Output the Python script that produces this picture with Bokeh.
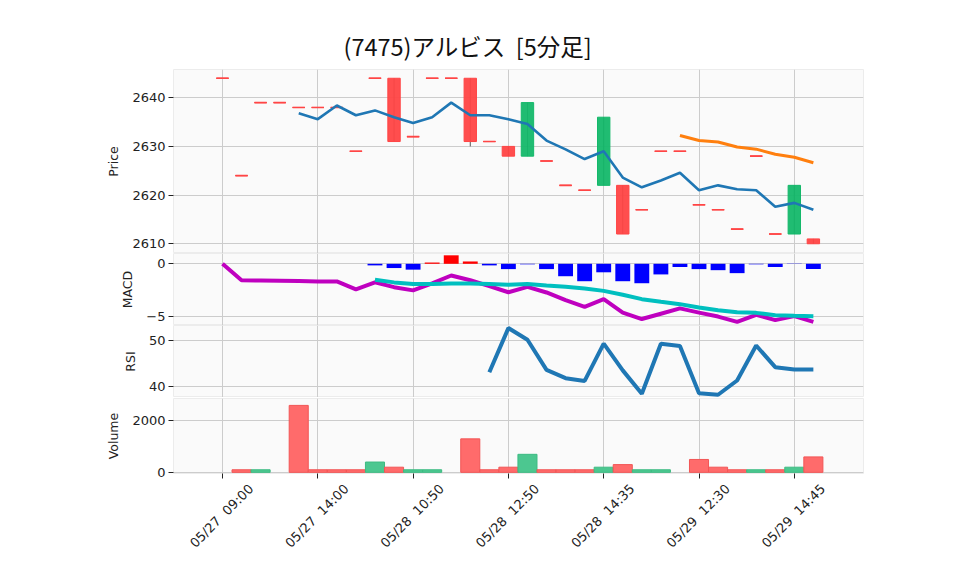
import math
from bokeh.plotting import figure
from bokeh.layouts import column
from bokeh.models import ColumnDataSource, Range1d, FixedTicker, Grid, LinearAxis
from bokeh.embed import file_html
from bokeh.resources import INLINE

nan = float("nan")

# ---------------- data ----------------
idx = list(range(32))
tick_pos = [0, 5, 10, 15, 20, 25, 30]
tick_labels = ["05/27  09:00", "05/27  14:00", "05/28  10:50", "05/28  12:50",
               "05/28  14:35", "05/29  12:30", "05/29  14:45"]

opens = [2644, 2624, 2639, 2639, 2638, 2638, 2638, 2629, 2644, 2644, 2632, 2644,
         2644, 2644, 2631, 2630, 2628, 2627, 2622, 2621, 2622, 2622, 2617, 2629,
         2629, 2618, 2617, 2613, 2628, 2612, 2612, 2611]
closes = [2644, 2624, 2639, 2639, 2638, 2638, 2638, 2629, 2644, 2631, 2632, 2644,
          2644, 2631, 2631, 2628, 2639, 2627, 2622, 2621, 2636, 2612, 2617, 2629,
          2629, 2618, 2617, 2613, 2628, 2612, 2622, 2610]
highs = [max(o, c) for o, c in zip(opens, closes)]
lows = [min(o, c) for o, c in zip(opens, closes)]
lows[13] = 2630

volume = [0, 100, 100, 0, 2600, 100, 100, 100, 400, 200, 100, 100, 0, 1300, 100, 200,
          700, 100, 100, 100, 200, 300, 100, 100, 0, 500, 200, 100, 100, 100, 200, 600]

sma5 = [nan] * 4 + [2636.8, 2635.6, 2638.4, 2636.4, 2637.4, 2636.0, 2634.8, 2636.0,
                    2639.0, 2636.4, 2636.4, 2635.6, 2634.6, 2631.2, 2629.4, 2627.4,
                    2629.0, 2623.6, 2621.6, 2623.0, 2624.6, 2621.0, 2622.0, 2621.2,
                    2621.0, 2617.6, 2618.4, 2617.0]
sma25 = [nan] * 24 + [2632.24, 2631.2, 2630.92, 2629.88, 2629.44, 2628.4, 2627.76, 2626.64]

macd = [0.0, -1.55, -1.57, -1.6, -1.63, -1.66, -1.66, -2.4, -1.74, -2.2, -2.5, -1.85,
        -1.1, -1.55, -2.1, -2.68, -2.17, -2.7, -3.43, -4.06, -3.33, -4.6, -5.2, -4.7,
        -4.2, -4.6, -4.97, -5.47, -4.8, -5.3, -4.93, -5.47]
signal = [nan] * 8 + [-1.5, -1.75, -1.9, -1.9, -1.85, -1.85, -1.9, -1.97, -1.9, -2.04,
                      -2.17, -2.33, -2.55, -2.92, -3.33, -3.58, -3.8, -4.12, -4.37,
                      -4.56, -4.62, -4.84, -4.9, -4.93]
hist = [nan] * 8 + [-0.15, -0.4, -0.55, 0.12, 0.8, 0.22, -0.15, -0.5, -0.05, -0.5,
                    -1.17, -1.64, -0.8, -1.64, -1.83, -1.0, -0.3, -0.5, -0.6, -0.88,
                    -0.05, -0.3, -0.02, -0.5]
rsi = [nan] * 14 + [43.1, 52.7, 50.15, 43.6, 41.8, 41.2, 49.3, 43.5, 38.4, 49.3, 48.8,
                    38.5, 38.2, 41.3, 48.9, 44.2, 43.7, 43.7]

title_text = "(7475)アルビス  [5分足]"

# ---------------- styling ----------------
RED, GREEN = "#ff4545", "#14b86a"
VRED, VGREEN = "#ff6b6b", "#4cc790"
W = 958
LEFT, RIGHT = 173, 95
TICK_FONT = "DejaVu Sans"
LABEL_SHIFT = 1.5

xr = Range1d(-2.57, 33.63)


def keep_spaces(s):
    return s.replace("  ", "\u00a0\u00a0")


def make(height, yr, yticks, ylabel, top=0, bottom=0, overrides=None):
    p = figure(width=W, height=height, x_range=xr, y_range=Range1d(*yr),
               output_backend="svg", toolbar_location=None, x_axis_location=None,
               min_border_left=LEFT, min_border_right=RIGHT,
               min_border_top=top, min_border_bottom=bottom)
    p.background_fill_color = "#fafafa"
    p.border_fill_color = "white"
    p.outline_line_color = "#ececec"
    ax = p.yaxis[0]
    ax.ticker = FixedTicker(ticks=yticks)
    p.ygrid.ticker = ax.ticker
    p.ygrid.grid_line_color = "#cccccc"
    p.ygrid.grid_line_width = 1
    p.add_layout(Grid(dimension=0, ticker=FixedTicker(ticks=tick_pos),
                      grid_line_color="#cccccc", grid_line_width=1))
    ax.axis_line_color = None
    ax.major_tick_line_color = "#222222"
    ax.major_tick_out = 5
    ax.major_tick_in = 0
    ax.minor_tick_line_color = None
    ax.major_label_text_font = TICK_FONT
    ax.major_label_text_font_size = "13px"
    ax.major_label_text_color = "#222222"
    ax.major_label_standoff = 3
    ax.axis_label = ylabel
    ax.axis_label_text_font = TICK_FONT
    ax.axis_label_text_font_size = "12.5px"
    ax.axis_label_text_font_style = "normal"
    ax.axis_label_text_color = "#222222"
    ax.axis_label_standoff = 8
    if overrides:
        ax.major_label_overrides = overrides
    return p


# ---- price panel ----
p1 = make(253, (2608.0, 2645.8), [2610, 2620, 2630, 2640], "Price", top=69)
p1.title.text = keep_spaces(title_text)
p1.title.align = "left"
p1.title.offset = 170
p1.title.text_font = "Noto Sans CJK JP"
p1.title.text_font_size = "23.5px"
p1.title.text_font_style = "normal"
p1.title.text_color = "#111111"
p1.title.standoff = 14

ccol = [GREEN if c > o else RED for o, c in zip(opens, closes)]
csrc = ColumnDataSource(dict(x=idx, o=opens, c=closes, h=highs, l=lows,
                             top=[max(o, c) for o, c in zip(opens, closes)],
                             bot=[min(o, c) for o, c in zip(opens, closes)],
                             col=ccol))
p1.segment(x0="x", x1="x", y0="l", y1="h", source=csrc, line_color="#555555", line_width=1)
p1.vbar(x="x", width=0.65, top="top", bottom="bot", source=csrc,
        fill_color="col", line_color="col", line_width=1, fill_alpha=0.95)
dj = [i for i in idx if opens[i] == closes[i]]
dsrc = ColumnDataSource(dict(x0=[i - 0.32 for i in dj], x1=[i + 0.32 for i in dj],
                             y=[opens[i] for i in dj]))
p1.segment(x0="x0", x1="x1", y0="y", y1="y", source=dsrc, line_color=RED, line_width=1.6)
p1.line(idx, sma5, line_color="#1f77b4", line_width=2.6)
p1.line(idx, sma25, line_color="#ff7f0e", line_width=3)

# ---- MACD panel ----
p2 = make(72, (-5.81, 0.97), [-5, 0], "MACD", overrides={-5: "\u22125", 0: "0"})
hcol = ["#ff0000" if (v == v and v > 0) else "#0000ff" for v in hist]
hsrc = ColumnDataSource(dict(x=idx, h=hist, col=hcol))
p2.vbar(x="x", width=0.78, top="h", bottom=0, source=hsrc, fill_color="col",
        line_color=None)
p2.line(idx, macd, line_color="#bf00bf", line_width=4)
p2.line(idx, signal, line_color="#00bfbf", line_width=4)

# ---- RSI panel ----
p3 = make(72, (37.6, 53.26), [40, 50], "RSI")
p3.line(idx, rsi, line_color="#1f77b4", line_width=4)

# ---- Volume panel ----
p4 = make(178, (-45, 2868), [0, 2000], "Volume", top=1, bottom=102)
vcol = [VRED] + [VGREEN if closes[i] > closes[i - 1] else VRED for i in range(1, 32)]
vline = ["#3dbb82" if c == VGREEN else "#f25555" for c in vcol]
nz = [i for i in idx if volume[i] > 0]
vsrc = ColumnDataSource(dict(x=nz, v=[volume[i] for i in nz],
                             col=[vcol[i] for i in nz], lc=[vline[i] for i in nz]))
p4.vbar(x="x", width=1.0, top="v", bottom=0, source=vsrc, fill_color="col",
        line_color="lc", line_width=1)

# tick marks (no labels)
xt = LinearAxis(ticker=FixedTicker(ticks=tick_pos),
                major_label_overrides={t: "" for t in tick_pos})
xt.axis_line_color = None
xt.major_tick_line_color = "#222222"
xt.major_tick_out = 5
xt.major_tick_in = 0
xt.minor_tick_line_color = None
xt.major_label_text_font_size = "1px"
xt.major_label_standoff = 0
p4.add_layout(xt, "below")

# rotated labels, centred on their ticks
lab_pos = [t + LABEL_SHIFT for t in tick_pos]
xl = LinearAxis(ticker=FixedTicker(ticks=lab_pos),
                major_label_overrides={lp: keep_spaces(l) for lp, l in zip(lab_pos, tick_labels)})
xl.axis_line_color = None
xl.major_tick_line_color = None
xl.major_tick_out = 0
xl.major_tick_in = 0
xl.minor_tick_line_color = None
xl.major_label_text_font = TICK_FONT
xl.major_label_text_font_size = "13px"
xl.major_label_text_color = "#222222"
xl.major_label_orientation = math.pi / 4
xl.major_label_standoff = 8
p4.add_layout(xl, "below")

layout = column(p1, p2, p3, p4, spacing=0)
open("out.html", "w").write(file_html(layout, INLINE))
